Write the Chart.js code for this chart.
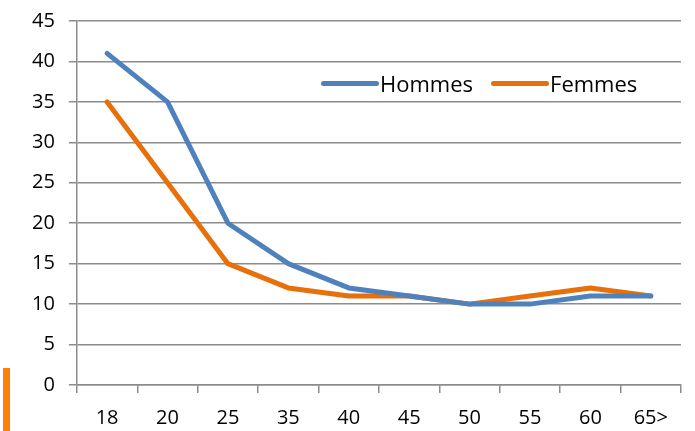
<!DOCTYPE html>
<html>
<head>
<meta charset="utf-8">
<script src="https://cdn.jsdelivr.net/npm/chart.js@4/dist/chart.umd.min.js"></script>
<style>
  html, body { margin: 0; padding: 0; background: #fff; }
  #wrap { position: relative; width: 695px; height: 431px; }
  #mark { position: absolute; left: 3px; top: 368px; width: 7px; height: 63px; background: #ff8000; }
  #legend { position: absolute; left: 321px; top: 68px; font: 22px "Open Sans", sans-serif; color: #000; display: flex; }
  #legend span.item { display: flex; align-items: center; margin-right: 18px; }
  #legend span.sw { display: inline-block; width: 58px; height: 5px; border-radius: 3px; margin-right: 1px; }
</style>
</head>
<body>
<div id="wrap">
  <canvas id="ageChart" width="695" height="431"></canvas>
  <div id="mark"></div>
  <div id="legend"></div>
</div>
<script>
// categories and series
const ages = ['18', '20', '25', '35', '40', '45', '50', '55', '60', '65>'];
const hommes = [41, 35, 20, 15, 12, 11, 10, 10, 11, 11];
const femmes = [35, 25, 15, 12, 11, 11, 10, 11, 12, 11];

const blue = '#4F81BD';
const orange = '#E8700A';
const gridGray = '#8c8c8c';

const ctx = document.getElementById('ageChart').getContext('2d');
const ageChart = new Chart(ctx, {
    type: 'line',
    data: {
        labels: ages,
        datasets: [
            { label: 'Hommes', data: hommes, borderColor: blue, borderWidth: 5, pointRadius: 0, tension: 0, borderCapStyle: 'round', borderJoinStyle: 'round' },
            { label: 'Femmes', data: femmes, borderColor: orange, borderWidth: 5, pointRadius: 0, tension: 0, borderCapStyle: 'round', borderJoinStyle: 'round' }
        ]
    },
    options: {
        responsive: false,
        animation: false,
        layout: { padding: { top: 0, right: 14, left: 18, bottom: 0 } },
        plugins: { legend: { display: false }, tooltip: { enabled: false } },
        scales: {
            x: {
                offset: true,
                afterFit: s => { s.height = 46; },
                grid: { offset: true, drawOnChartArea: false, drawTicks: true, tickLength: 8, color: gridGray, lineWidth: 1.5 },
                border: { color: gridGray, width: 1.5 },
                ticks: { color: '#000', padding: 15, maxRotation: 0, autoSkip: false, font: { family: 'Open Sans', size: 20, lineHeight: 1 } }
            },
            y: {
                min: 0, max: 45,
                ticks: { stepSize: 5, color: '#000', padding: 14, font: { family: 'Open Sans', size: 20, lineHeight: 0.7 } },
                grid: { color: gridGray, lineWidth: 1.5, tickLength: 8 },
                border: { color: gridGray, width: 1.5 }
            }
        }
    }
});

// legend drawn as html, built from the datasets
const legend = document.getElementById('legend');
ageChart.data.datasets.forEach(ds => {
    const item = document.createElement('span');
    item.className = 'item';
    item.innerHTML = '<span class="sw" style="background:' + ds.borderColor + '"></span>' + ds.label;
    legend.appendChild(item);
});
</script>
</body>
</html>
